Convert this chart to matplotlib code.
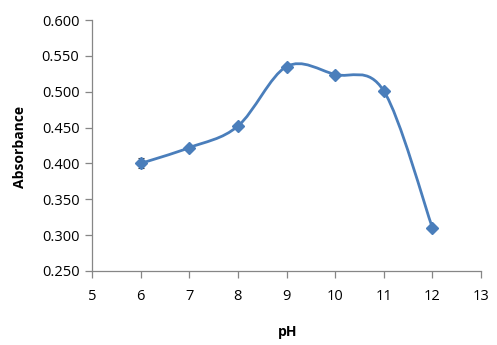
import matplotlib
matplotlib.use("Agg")
import matplotlib.pyplot as plt
from matplotlib.path import Path
import matplotlib.patches as patches
import numpy as np

ph = [6, 7, 8, 9, 10, 11, 12]
absorbance = [0.400, 0.422, 0.452, 0.535, 0.524, 0.501, 0.310]
errors = [0.007, 0.003, 0.003, 0.003, 0.003, 0.003, 0.002]

x_ticks = [5, 6, 7, 8, 9, 10, 11, 12, 13]
y_ticks = [0.250, 0.300, 0.350, 0.400, 0.450, 0.500, 0.550, 0.600]

blue = "#4a7ebb"
gray = "#868686"

plt.rcParams['font.family'] = ['Open Sans', 'DejaVu Sans']

fig = plt.figure(figsize=(4.97, 3.45), dpi=100)
ax = fig.add_axes([0.185, 0.2145, 0.783, 0.7275])


def smooth_path(xs, ys):
    # Excel-style smoothed line: cubic Bezier segments through the points
    pts = np.column_stack([xs, ys])
    n = len(pts)
    verts = [tuple(pts[0])]
    codes = [Path.MOVETO]
    for i in range(n - 1):
        p0 = pts[i - 1] if i > 0 else pts[i]
        p1 = pts[i]
        p2 = pts[i + 1]
        p3 = pts[i + 2] if i + 2 < n else pts[i + 1]
        c1 = p1 + (p2 - p0) / 6.0
        c2 = p2 - (p3 - p1) / 6.0
        verts += [tuple(c1), tuple(c2), tuple(p2)]
        codes += [Path.CURVE4] * 3
    return Path(verts, codes)


curve = patches.PathPatch(smooth_path(ph, absorbance), facecolor='none',
                          edgecolor=blue, linewidth=2, zorder=2)
ax.add_patch(curve)

ax.errorbar(ph, absorbance, yerr=errors, fmt='none', ecolor='#333333',
            elinewidth=0.8, capsize=2.5, capthick=0.8, zorder=3)
ax.plot(ph, absorbance, linestyle='none', marker='D', markersize=6.5,
        color=blue, zorder=4)

ax.set_xlim(5, 13)
ax.set_ylim(0.25, 0.6)
ax.set_xticks(x_ticks)
ax.set_yticks(y_ticks)
ax.set_yticklabels([f"{v:.3f}" for v in y_ticks])

for side in ['top', 'right']:
    ax.spines[side].set_visible(False)
for side in ['left', 'bottom']:
    ax.spines[side].set_color(gray)
    ax.spines[side].set_linewidth(0.9)
ax.tick_params(axis='both', direction='out', length=5, width=0.9,
               color=gray, labelsize=10.5, labelcolor='black')
ax.tick_params(axis='x', pad=8)
ax.tick_params(axis='y', pad=4)

fig.text(0.040, 0.574, "Absorbance", rotation=90, ha='center', va='center',
         fontsize=10, fontweight='bold')
fig.text(0.578, 0.038, "pH", ha='center', va='center',
         fontsize=10, fontweight='bold')

fig.savefig("out.png", dpi=100)
